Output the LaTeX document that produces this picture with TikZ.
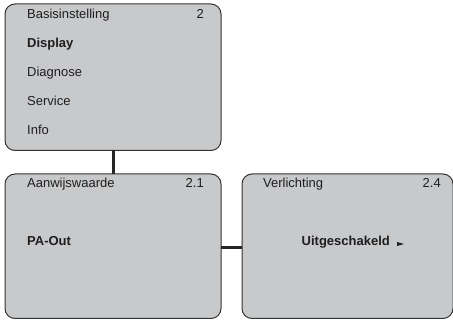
\documentclass[tikz,border=0pt]{standalone}
\usepackage{fontspec}
\setmainfont{Liberation Sans}
\definecolor{boxfill}{HTML}{C8C9CB}
\definecolor{boxline}{HTML}{333333}
\definecolor{txt}{HTML}{1E1E1E}
\begin{document}
\begin{tikzpicture}[x=1pt,y=-1pt,
  menubox/.style={draw=boxline,fill=boxfill,line width=1pt,rounded corners=10pt},
  lbl/.style={anchor=base west,inner sep=0pt,text=txt,font=\fontsize{13}{15}\selectfont},
  num/.style={anchor=base east,inner sep=0pt,text=txt,font=\fontsize{13}{15}\selectfont},
  conn/.style={draw=black!85,line width=3pt}]
\useasboundingbox (0,0) rectangle (453,320);
\path[menubox] (5,4) rectangle (221,150.5);
\path[menubox] (5,174) rectangle (221,318.5);
\path[menubox] (242,174) rectangle (453,318.5);
\coordinate (b1s) at (113,150.5);
\coordinate (b2n) at (113,174);
\coordinate (b2e) at (221,248);
\coordinate (b3w) at (242,248);
\draw[conn] (b1s) -- (b2n);
\draw[conn] (b2e) -- (b3w);
\node[lbl] (t1) at (27,19) {Basisinstelling};
\node[num] (n1) at (204,19) {2};
\node[lbl] (t2) at (27,48) {\bfseries Display};
\node[lbl] (t3) at (27,77) {Diagnose};
\node[lbl] (t4) at (27,106) {Service};
\node[lbl] (t5) at (27,134.5) {Info};
\node[lbl] (h2) at (27,188) {Aanwijswaarde};
\node[num] (n2) at (204,188) {2.1};
\node[lbl] (p2) at (27,246) {\bfseries PA-Out};
\node[lbl] (h3) at (263,188) {Verlichting};
\node[num] (n3) at (441,188) {2.4};
\node[lbl] (u3) at (301.5,246) {\bfseries Uitgeschakeld};
\fill[txt] (397,242) -- (404,244) -- (397,246) -- cycle;
\end{tikzpicture}
\end{document}
